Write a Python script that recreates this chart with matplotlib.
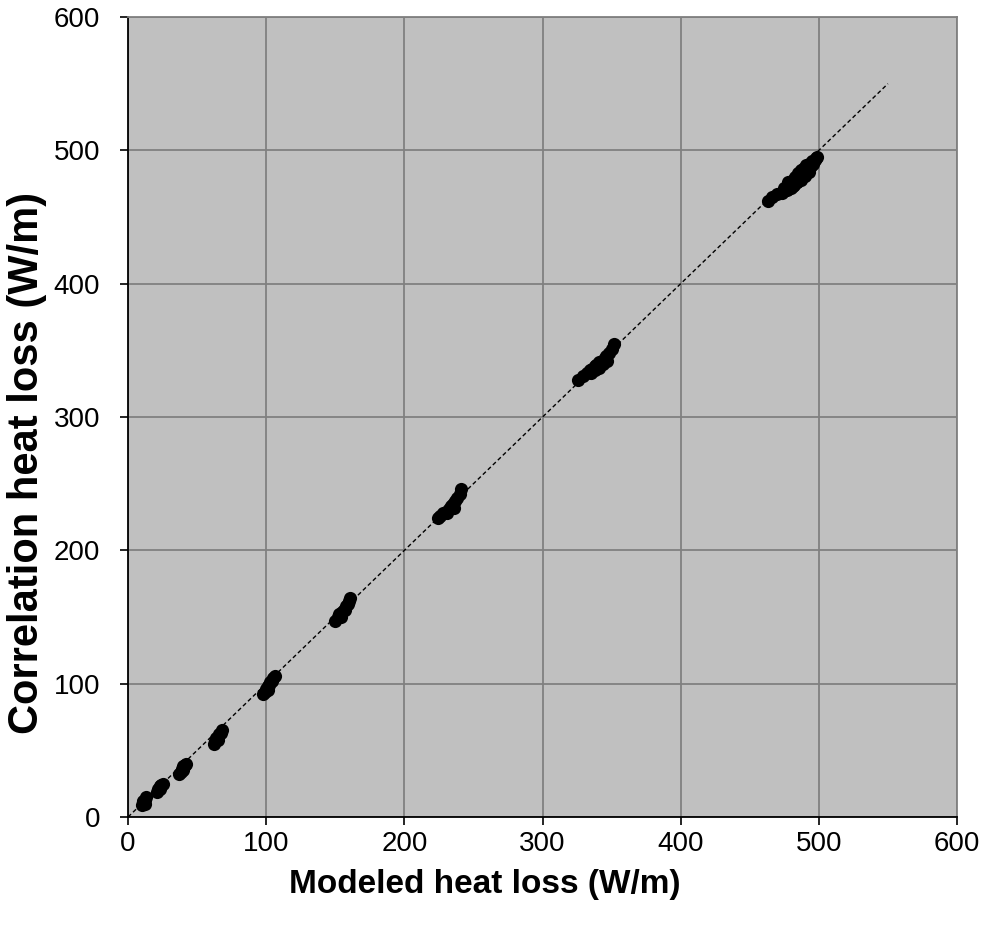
import matplotlib
matplotlib.use("Agg")
import matplotlib.pyplot as plt

plt.rcParams['font.family'] = ['Liberation Sans', 'DejaVu Sans']

# modeled vs correlation heat loss (W/m)
modeled = [10, 11, 12, 13, 12, 11,
           21, 22, 23, 24, 25, 23,
           37, 38, 39, 40, 41, 42, 40,
           62, 63, 64, 65, 66, 67, 68, 65,
           98, 99, 100, 101, 102, 103, 104, 105, 106, 101,
           150, 152, 153, 155, 156, 158, 159, 160, 161, 154, 157,
           224, 226, 228, 230, 232, 234, 235, 237, 238, 240, 241, 231, 236,
           326, 329, 332, 334, 336, 338, 339, 341, 343, 345, 346, 348, 350, 352,
           335, 338, 341, 344, 347,
           463, 466, 470, 473, 475, 477, 478, 480, 481, 482, 483, 484, 485, 486,
           487, 488, 489, 490, 491, 492, 493, 494, 495, 496, 497, 498, 499,
           478, 481, 484, 487, 490, 493]
correlation = [9, 11, 13, 15, 10, 12,
               19, 21, 23, 24, 25, 21,
               32, 34, 36, 38, 39, 40, 35,
               55, 57, 59, 60, 62, 63, 65, 58,
               92, 94, 96, 98, 99, 101, 102, 104, 106, 95,
               147, 150, 152, 154, 155, 158, 160, 162, 164, 150, 155,
               224, 226, 228, 229, 231, 233, 235, 237, 239, 242, 246, 228, 232,
               328, 331, 333, 335, 336, 338, 339, 341, 342, 344, 346, 348, 351, 355,
               333, 335, 337, 340, 342,
               462, 465, 467, 468, 472, 470, 476, 472, 478, 474, 480, 476, 483, 479,
               485, 481, 487, 484, 489, 486, 490, 488, 492, 490, 493, 494, 495,
               471, 473, 476, 478, 481, 484]

diag = [0, 550]

fig = plt.figure(figsize=(9.85, 9.3), dpi=100)
ax = fig.add_axes([0.130, 0.1215, 0.8416, 0.8602])
ax.set_facecolor('#C0C0C0')

ax.plot(diag, diag, color='black', linestyle=(0, (3, 2)), linewidth=1, zorder=3)
ax.scatter(modeled, correlation, s=90, color='black', zorder=4, linewidths=0)

ax.set_xlim(0, 600)
ax.set_ylim(0, 600)
ax.set_xticks(range(0, 601, 100))
ax.set_yticks(range(0, 601, 100))
ax.grid(True, color='#808080', linewidth=1.3)
ax.set_axisbelow(True)
for s in ax.spines.values():
    s.set_color('#808080')
    s.set_linewidth(1.3)
ax.spines['left'].set_color('black')
ax.spines['bottom'].set_color('black')
ax.tick_params(direction='out', length=6, width=1.2, labelsize=20)
ax.tick_params(axis='x', pad=4)
ax.tick_params(axis='y', pad=14)

ax.set_xlabel('Modeled heat loss (W/m)', fontsize=24, fontweight='bold')
ax.set_ylabel('Correlation heat loss (W/m)', fontsize=30, fontweight='bold')
ax.xaxis.set_label_coords(0.43, -0.065)
ax.yaxis.set_label_coords(-0.098, 0.4425)

fig.savefig('out.png', dpi=100)
